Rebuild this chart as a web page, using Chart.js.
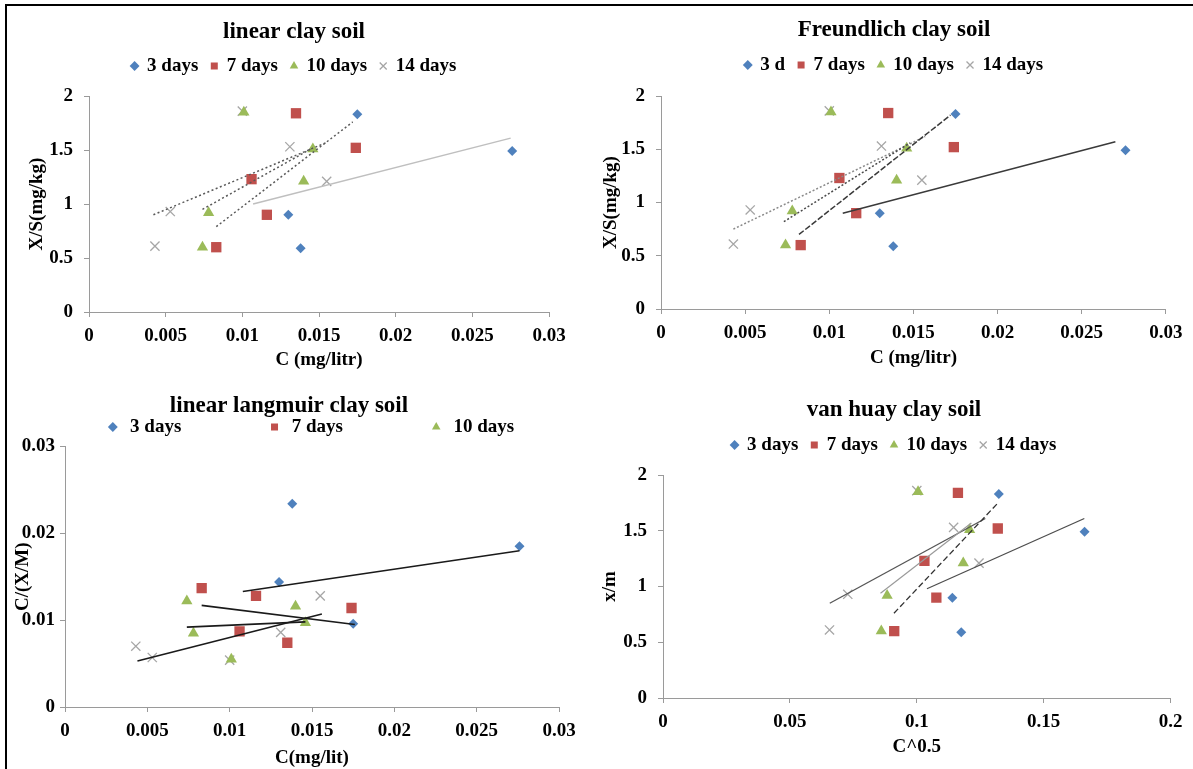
<!DOCTYPE html>
<html>
<head>
<meta charset="utf-8">
<title>clay soil isotherms</title>
<script src="https://cdn.jsdelivr.net/npm/chart.js@4.4.1/dist/chart.umd.min.js"></script>
<style>
  html, body { margin: 0; padding: 0; background: #fff; }
  #page { position: relative; width: 1193px; height: 769px; overflow: hidden; background: #fff; }
  #frame { position: absolute; left: 5px; top: 4px; width: 1250px; height: 820px;
           border-left: 2.5px solid #000; border-top: 2.5px solid #000; }
  canvas { position: absolute; }
</style>
</head>
<body>
<div id="page">
  <div id="frame"></div>
  <canvas id="linear" width="570" height="370" style="left:8px;top:8px;width:570px;height:370px"></canvas>
  <canvas id="freundlich" width="590" height="370" style="left:600px;top:8px;width:590px;height:370px"></canvas>
  <canvas id="langmuir" width="578" height="384" style="left:8px;top:385px;width:578px;height:384px"></canvas>
  <canvas id="vanhuay" width="590" height="384" style="left:600px;top:385px;width:590px;height:384px"></canvas>
</div>
<script>
// contact times
const seriesNames = ['3 days', '7 days', '10 days', '14 days'];

// C (mg/litr)
const c3 = [0.0175, 0.0276, 0.0130, 0.0138];
const c7 = [0.0135, 0.0174, 0.0106, 0.0116, 0.0083];
const c10 = [0.0101, 0.0146, 0.0140, 0.0078, 0.0074];
const c14 = [0.0100, 0.0131, 0.0155, 0.0053, 0.0043];

// X/S (mg/kg), also x/m
const xs3 = [1.83, 1.49, 0.90, 0.59];
const xs7 = [1.84, 1.52, 1.23, 0.90, 0.60];
const xs10 = [1.85, 1.51, 1.21, 0.92, 0.60];
const xs14 = [1.86, 1.53, 1.21, 0.93, 0.61];

// C/(X/M)
const cm3 = [0.0096, 0.0185, 0.0144, 0.0234];
const cm7 = [0.0074, 0.0114, 0.0087, 0.0128, 0.0137];
const cm10 = [0.0055, 0.0097, 0.0116, 0.0085, 0.0122];
const cm14 = [0.0054, 0.0086, 0.0128, 0.0057, 0.0070];

// C^0.5
const r3 = [0.1323, 0.1661, 0.1140, 0.1175];
const r7 = [0.1162, 0.1319, 0.1030, 0.1077, 0.0911];
const r10 = [0.1005, 0.1208, 0.1183, 0.0883, 0.0860];
const r14 = [0.1000, 0.1145, 0.1245, 0.0728, 0.0656];

// trend lines, one per series: [x1, y1, x2, y2]
const linFits = [[0.0107, 1.00, 0.0275, 1.61], [0.0083, 0.79, 0.0172, 1.76], [0.0074, 0.95, 0.0146, 1.52], [0.0042, 0.90, 0.0155, 1.57]];
const frFits = [[0.0108, 0.90, 0.0270, 1.57], [0.0082, 0.70, 0.0172, 1.82], [0.0073, 0.82, 0.0148, 1.56], [0.0043, 0.75, 0.0157, 1.62]];
const lgFits = [[0.0108, 0.0133, 0.0276, 0.0180], [0.0083, 0.0117, 0.0176, 0.0095], [0.0074, 0.0092, 0.0146, 0.0098], [0.0044, 0.0053, 0.0156, 0.0107]];
const vhFits = [[0.104, 0.98, 0.166, 1.61], [0.091, 0.76, 0.132, 1.75], [0.0857, 0.94, 0.1215, 1.57], [0.0657, 0.85, 0.127, 1.61]];

// axis ticks
const cTicks = [0, 0.005, 0.01, 0.015, 0.02, 0.025, 0.03];
const cTickLabels = ['0', '0.005', '0.01', '0.015', '0.02', '0.025', '0.03'];
const xsTicks = [0, 0.5, 1, 1.5, 2];
const xsTickLabels = ['0', '0.5', '1', '1.5', '2'];
const cmTicks = [0, 0.01, 0.02, 0.03];
const cmTickLabels = ['0', '0.01', '0.02', '0.03'];
const rTicks = [0, 0.05, 0.1, 0.15, 0.2];
const rTickLabels = ['0', '0.05', '0.1', '0.15', '0.2'];

const FONT = "'Liberation Serif', 'Times New Roman', serif";
const AXIS = '#9a9a9a';
const markerStyles = ['rectRot', 'rect', 'triangle', 'crossRot'];
const markerColors = ['#4F81BD', '#C0504D', '#9BBB59', '#A6A6A6'];
const markerSizes = [5, 7.3, 6.5, 6.5];

const pts = (xs, ys) => xs.map((x, i) => ({x: x, y: ys[i]}));
const bold = size => ({family: FONT, size: size, weight: 'bold'});

function fixedTicks(values) {
  return scale => { scale.ticks = values.map(v => ({value: v})); };
}

function makePanel(id, cfg) {
  const datasets = [];
  cfg.xs.forEach((xs, i) => {
    datasets.push({
      label: seriesNames[i],
      data: pts(xs, cfg.ys[i]),
      pointStyle: markerStyles[i],
      pointRadius: markerSizes[i],
      pointHoverRadius: markerSizes[i],
      backgroundColor: markerColors[i],
      borderColor: markerColors[i],
      borderWidth: i === 3 ? 1.3 : 0,
      inLegend: i < cfg.legendCount
    });
  });
  cfg.fits.forEach((f, i) => {
    const st = cfg.fitStyles[i];
    datasets.push({
      label: '',
      data: [{x: f[0], y: f[1]}, {x: f[2], y: f[3]}],
      showLine: true,
      pointRadius: 0,
      pointHoverRadius: 0,
      borderColor: st[0],
      borderWidth: st[1],
      borderDash: st[2],
      order: -1,
      inLegend: false
    });
  });

  return new Chart(document.getElementById(id), {
    type: 'scatter',
    data: {datasets: datasets},
    options: {
      responsive: false,
      animation: false,
      events: [],
      layout: {padding: cfg.pad},
      plugins: {
        tooltip: {enabled: false},
        title: {
          display: true,
          text: cfg.title,
          color: '#000',
          font: {family: FONT, size: 23, weight: 'bold', lineHeight: 1},
          padding: cfg.titlePad
        },
        legend: {
          position: 'top',
          fullSize: cfg.legendFull,
          labels: {
            usePointStyle: true,
            boxWidth: 6,
            boxHeight: 7,
            padding: cfg.legendPad,
            color: '#000',
            font: bold(19),
            filter: (item, data) => data.datasets[item.datasetIndex].inLegend,
            generateLabels: chart => Chart.defaults.plugins.legend.labels.generateLabels(chart)
              .map(item => Object.assign(item, {text: cfg.legendText[item.datasetIndex] || item.text}))
          }
        }
      },
      scales: {
        x: {
          type: 'linear',
          position: 'bottom',
          min: cfg.xTicks[0],
          max: cfg.xTicks[cfg.xTicks.length - 1],
          afterBuildTicks: fixedTicks(cfg.xTicks),
          afterFit: s => { s.height = cfg.xH; },
          grid: {drawOnChartArea: false, color: AXIS, tickLength: 5},
          border: {color: AXIS},
          ticks: {
            autoSkip: false, maxRotation: 0, padding: 7.5, color: '#000', font: bold(19),
            callback: (v, i) => cfg.xTickLabels[i]
          },
          title: {display: true, text: cfg.xTitle, color: '#000', font: bold(19), padding: {top: 0, bottom: cfg.xTitlePad}}
        },
        y: {
          type: 'linear',
          position: 'left',
          min: cfg.yTicks[0],
          max: cfg.yTicks[cfg.yTicks.length - 1],
          afterBuildTicks: fixedTicks(cfg.yTicks),
          afterFit: s => { s.width = cfg.yW; },
          grid: {drawOnChartArea: false, color: AXIS, tickLength: 5},
          border: {color: AXIS},
          ticks: {
            autoSkip: false, padding: cfg.yTickPad, color: '#000', font: bold(19),
            callback: (v, i) => cfg.yTickLabels[i]
          },
          // title sits left of the scale box, so its offset may go negative
          title: {display: true, text: cfg.yTitle, color: '#000', font: bold(19), padding: {top: cfg.yTitlePad, bottom: 0}}
        },
        // empty band between legend and plot
        gap: {
          type: 'linear',
          axis: 'x',
          position: 'top',
          display: true,
          grid: {display: false},
          border: {display: false},
          ticks: {display: false},
          afterFit: s => { s.height = cfg.gap; }
        }
      }
    }
  });
}

const padLabel = (t, n) => ' ' + t + ' '.repeat(n);

makePanel('linear', {
  title: 'linear clay soil',
  xs: [c3, c7, c10, c14], ys: [xs3, xs7, xs10, xs14],
  fits: linFits,
  fitStyles: [['#BFBFBF', 1.5, []], ['#595959', 1.5, [2, 2.5]], ['#595959', 1.5, [2, 2.5]], ['#595959', 1.5, [2, 2.5]]],
  legendCount: 4, legendText: [], legendFull: true,
  pad: {left: 31, right: 29, top: 0, bottom: 6},
  titlePad: {top: 12.5, bottom: 0}, legendPad: 13, gap: 10.5,
  xTicks: cTicks, xTickLabels: cTickLabels, xTitle: 'C (mg/litr)', xH: 60, xTitlePad: 0.6,
  yTicks: xsTicks, yTickLabels: xsTickLabels, yTitle: 'X/S(mg/kg)', yW: 50, yTitlePad: -13.4, yTickPad: 11
});

makePanel('freundlich', {
  title: 'Freundlich clay soil',
  xs: [c3, c7, c10, c14], ys: [xs3, xs7, xs10, xs14],
  fits: frFits,
  fitStyles: [['#3a3a3a', 1.5, []], ['#3a3a3a', 1.5, [6, 2]], ['#4a4a4a', 1.5, [2, 2]], ['#8a8a8a', 1.5, [2, 2]]],
  legendCount: 4, legendText: ['3 d'], legendFull: true,
  pad: {left: 18, right: 20, top: 0, bottom: 8},
  titlePad: {top: 10.5, bottom: 1}, legendPad: 13, gap: 11.5,
  xTicks: cTicks, xTickLabels: cTickLabels, xTitle: 'C (mg/litr)', xH: 61, xTitlePad: 0.6,
  yTicks: xsTicks, yTickLabels: xsTickLabels, yTitle: 'X/S(mg/kg)', yW: 43, yTitlePad: -18.4, yTickPad: 11
});

// tick labels are clipped to the y scale box, so this one starts further left
makePanel('langmuir', {
  title: 'linear langmuir clay soil',
  xs: [c3, c7, c10, c14], ys: [cm3, cm7, cm10, cm14],
  fits: lgFits,
  fitStyles: [['#1a1a1a', 1.6, []], ['#1a1a1a', 1.6, []], ['#1a1a1a', 1.6, []], ['#1a1a1a', 1.6, []]],
  legendCount: 3, legendText: [padLabel('3 days', 19), padLabel('7 days', 19), padLabel('10 days', 0)], legendFull: false,
  pad: {left: 11, right: 27, top: 0, bottom: 0},
  titlePad: {top: 9.5, bottom: 0}, legendPad: 0, gap: 0,
  xTicks: cTicks, xTickLabels: cTickLabels, xTitle: 'C(mg/lit)', xH: 62, xTitlePad: 0,
  yTicks: cmTicks, yTickLabels: cmTickLabels, yTitle: 'C/(X/M)', yW: 46, yTitlePad: -7.4, yTickPad: 5
});

makePanel('vanhuay', {
  title: 'van huay clay soil',
  xs: [r3, r7, r10, r14], ys: [xs3, xs7, xs10, xs14],
  fits: vhFits,
  fitStyles: [['#4d4d4d', 1.3, []], ['#333333', 1.3, [6, 3]], ['#9a9a9a', 1.2, []], ['#555555', 1.3, []]],
  legendCount: 4, legendText: [], legendFull: true,
  pad: {left: 13, right: 15, top: 0, bottom: 10},
  titlePad: {top: 13.5, bottom: 1}, legendPad: 13, gap: 10.5,
  xTicks: rTicks, xTickLabels: rTickLabels, xTitle: 'C^0.5', xH: 61, xTitlePad: 0.6,
  yTicks: xsTicks, yTickLabels: xsTickLabels, yTitle: 'x/m', yW: 50, yTitlePad: -14.4, yTickPad: 11
});
</script>
</body>
</html>
